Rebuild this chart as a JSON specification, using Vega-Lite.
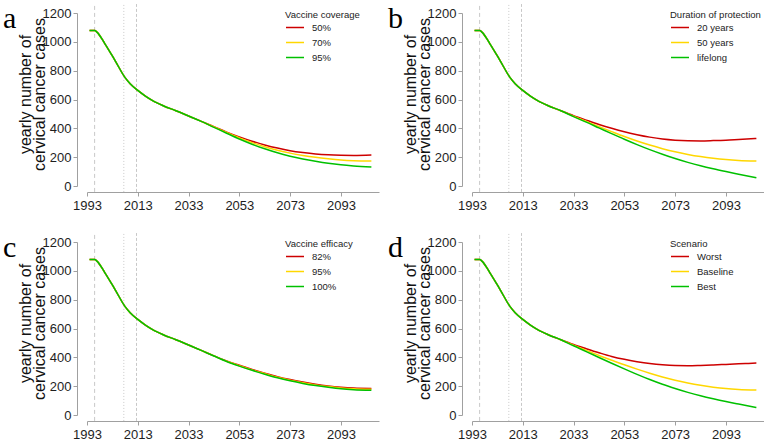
{
"$schema": "https://vega.github.io/schema/vega-lite/v6.json",
"background": "white",
"padding": {"left": 3, "top": 3, "right": 0, "bottom": 0},
"columns": 2,
"spacing": {"row": 56, "column": 93},
"bounds": "flush",
"resolve": {"scale": {"color": "independent", "x": "independent", "y": "independent", "strokeDash": "independent"}, "legend": {"color": "independent"}},
"datasets": {
"vlines": [{"year": 1996, "kind": "d1"}, {"year": 2007.5, "kind": "d2"}, {"year": 2012.5, "kind": "d3"}],
"curves": [
{"p":"a","s":"50%","year":1994,"cases":1078},{"p":"a","s":"50%","year":1996,"cases":1078},{"p":"a","s":"50%","year":1997,"cases":1066},{"p":"a","s":"50%","year":2000,"cases":988},{"p":"a","s":"50%","year":2004,"cases":872},{"p":"a","s":"50%","year":2008,"cases":752},{"p":"a","s":"50%","year":2010,"cases":710},{"p":"a","s":"50%","year":2013,"cases":663},{"p":"a","s":"50%","year":2016,"cases":624},{"p":"a","s":"50%","year":2019,"cases":591},{"p":"a","s":"50%","year":2023,"cases":557},{"p":"a","s":"50%","year":2028,"cases":522},
{"p":"a","s":"50%","year":2033,"cases":486},{"p":"a","s":"50%","year":2038,"cases":448},{"p":"a","s":"50%","year":2043,"cases":412},{"p":"a","s":"50%","year":2048,"cases":374},{"p":"a","s":"50%","year":2053,"cases":341},{"p":"a","s":"50%","year":2058,"cases":311},{"p":"a","s":"50%","year":2063,"cases":285},{"p":"a","s":"50%","year":2068,"cases":263},{"p":"a","s":"50%","year":2073,"cases":245},{"p":"a","s":"50%","year":2078,"cases":232},{"p":"a","s":"50%","year":2083,"cases":222},{"p":"a","s":"50%","year":2088,"cases":216},{"p":"a","s":"50%","year":2093,"cases":213},{"p":"a","s":"50%","year":2098,"cases":212},{"p":"a","s":"50%","year":2105,"cases":215},
{"p":"a","s":"70%","year":1994,"cases":1078},{"p":"a","s":"70%","year":1996,"cases":1078},{"p":"a","s":"70%","year":1997,"cases":1066},{"p":"a","s":"70%","year":2000,"cases":988},{"p":"a","s":"70%","year":2004,"cases":872},{"p":"a","s":"70%","year":2008,"cases":752},{"p":"a","s":"70%","year":2010,"cases":710},{"p":"a","s":"70%","year":2013,"cases":663},{"p":"a","s":"70%","year":2016,"cases":624},{"p":"a","s":"70%","year":2019,"cases":591},{"p":"a","s":"70%","year":2023,"cases":557},{"p":"a","s":"70%","year":2028,"cases":522},
{"p":"a","s":"70%","year":2033,"cases":486},{"p":"a","s":"70%","year":2038,"cases":448},{"p":"a","s":"70%","year":2043,"cases":410},{"p":"a","s":"70%","year":2048,"cases":371},{"p":"a","s":"70%","year":2053,"cases":334},{"p":"a","s":"70%","year":2058,"cases":301},{"p":"a","s":"70%","year":2063,"cases":272},{"p":"a","s":"70%","year":2068,"cases":248},{"p":"a","s":"70%","year":2073,"cases":228},{"p":"a","s":"70%","year":2078,"cases":212},{"p":"a","s":"70%","year":2083,"cases":199},{"p":"a","s":"70%","year":2088,"cases":189},{"p":"a","s":"70%","year":2093,"cases":181},{"p":"a","s":"70%","year":2098,"cases":176},{"p":"a","s":"70%","year":2105,"cases":173},
{"p":"a","s":"95%","year":1994,"cases":1078},{"p":"a","s":"95%","year":1996,"cases":1078},{"p":"a","s":"95%","year":1997,"cases":1066},{"p":"a","s":"95%","year":2000,"cases":988},{"p":"a","s":"95%","year":2004,"cases":872},{"p":"a","s":"95%","year":2008,"cases":752},{"p":"a","s":"95%","year":2010,"cases":710},{"p":"a","s":"95%","year":2013,"cases":663},{"p":"a","s":"95%","year":2016,"cases":624},{"p":"a","s":"95%","year":2019,"cases":591},{"p":"a","s":"95%","year":2023,"cases":557},{"p":"a","s":"95%","year":2028,"cases":522},
{"p":"a","s":"95%","year":2033,"cases":486},{"p":"a","s":"95%","year":2038,"cases":448},{"p":"a","s":"95%","year":2043,"cases":407},{"p":"a","s":"95%","year":2048,"cases":366},{"p":"a","s":"95%","year":2053,"cases":326},{"p":"a","s":"95%","year":2058,"cases":290},{"p":"a","s":"95%","year":2063,"cases":258},{"p":"a","s":"95%","year":2068,"cases":230},{"p":"a","s":"95%","year":2073,"cases":207},{"p":"a","s":"95%","year":2078,"cases":188},{"p":"a","s":"95%","year":2083,"cases":172},{"p":"a","s":"95%","year":2088,"cases":158},{"p":"a","s":"95%","year":2093,"cases":147},{"p":"a","s":"95%","year":2098,"cases":139},{"p":"a","s":"95%","year":2105,"cases":131},

{"p":"b","s":"20 years","year":1994,"cases":1078},{"p":"b","s":"20 years","year":1996,"cases":1078},{"p":"b","s":"20 years","year":1997,"cases":1066},{"p":"b","s":"20 years","year":2000,"cases":988},{"p":"b","s":"20 years","year":2004,"cases":872},{"p":"b","s":"20 years","year":2008,"cases":752},{"p":"b","s":"20 years","year":2010,"cases":710},{"p":"b","s":"20 years","year":2013,"cases":663},{"p":"b","s":"20 years","year":2016,"cases":624},{"p":"b","s":"20 years","year":2019,"cases":591},{"p":"b","s":"20 years","year":2023,"cases":557},{"p":"b","s":"20 years","year":2028,"cases":522},
{"p":"b","s":"20 years","year":2033,"cases":488},{"p":"b","s":"20 years","year":2038,"cases":457},{"p":"b","s":"20 years","year":2043,"cases":427},{"p":"b","s":"20 years","year":2048,"cases":400},{"p":"b","s":"20 years","year":2053,"cases":376},{"p":"b","s":"20 years","year":2058,"cases":356},{"p":"b","s":"20 years","year":2063,"cases":339},{"p":"b","s":"20 years","year":2068,"cases":326},{"p":"b","s":"20 years","year":2073,"cases":318},{"p":"b","s":"20 years","year":2078,"cases":314},{"p":"b","s":"20 years","year":2083,"cases":313},{"p":"b","s":"20 years","year":2088,"cases":315},{"p":"b","s":"20 years","year":2093,"cases":318},{"p":"b","s":"20 years","year":2098,"cases":323},{"p":"b","s":"20 years","year":2105,"cases":330},
{"p":"b","s":"50 years","year":1994,"cases":1078},{"p":"b","s":"50 years","year":1996,"cases":1078},{"p":"b","s":"50 years","year":1997,"cases":1066},{"p":"b","s":"50 years","year":2000,"cases":988},{"p":"b","s":"50 years","year":2004,"cases":872},{"p":"b","s":"50 years","year":2008,"cases":752},{"p":"b","s":"50 years","year":2010,"cases":710},{"p":"b","s":"50 years","year":2013,"cases":663},{"p":"b","s":"50 years","year":2016,"cases":624},{"p":"b","s":"50 years","year":2019,"cases":591},{"p":"b","s":"50 years","year":2023,"cases":557},{"p":"b","s":"50 years","year":2028,"cases":522},
{"p":"b","s":"50 years","year":2033,"cases":484},{"p":"b","s":"50 years","year":2038,"cases":448},{"p":"b","s":"50 years","year":2043,"cases":412},{"p":"b","s":"50 years","year":2048,"cases":377},{"p":"b","s":"50 years","year":2053,"cases":343},{"p":"b","s":"50 years","year":2058,"cases":312},{"p":"b","s":"50 years","year":2063,"cases":284},{"p":"b","s":"50 years","year":2068,"cases":259},{"p":"b","s":"50 years","year":2073,"cases":237},{"p":"b","s":"50 years","year":2078,"cases":219},{"p":"b","s":"50 years","year":2083,"cases":204},{"p":"b","s":"50 years","year":2088,"cases":192},{"p":"b","s":"50 years","year":2093,"cases":183},{"p":"b","s":"50 years","year":2098,"cases":177},{"p":"b","s":"50 years","year":2105,"cases":173},
{"p":"b","s":"lifelong","year":1994,"cases":1078},{"p":"b","s":"lifelong","year":1996,"cases":1078},{"p":"b","s":"lifelong","year":1997,"cases":1066},{"p":"b","s":"lifelong","year":2000,"cases":988},{"p":"b","s":"lifelong","year":2004,"cases":872},{"p":"b","s":"lifelong","year":2008,"cases":752},{"p":"b","s":"lifelong","year":2010,"cases":710},{"p":"b","s":"lifelong","year":2013,"cases":663},{"p":"b","s":"lifelong","year":2016,"cases":624},{"p":"b","s":"lifelong","year":2019,"cases":591},{"p":"b","s":"lifelong","year":2023,"cases":557},{"p":"b","s":"lifelong","year":2028,"cases":522},
{"p":"b","s":"lifelong","year":2033,"cases":481},{"p":"b","s":"lifelong","year":2038,"cases":443},{"p":"b","s":"lifelong","year":2043,"cases":403},{"p":"b","s":"lifelong","year":2048,"cases":363},{"p":"b","s":"lifelong","year":2053,"cases":324},{"p":"b","s":"lifelong","year":2058,"cases":287},{"p":"b","s":"lifelong","year":2063,"cases":252},{"p":"b","s":"lifelong","year":2068,"cases":220},{"p":"b","s":"lifelong","year":2073,"cases":191},{"p":"b","s":"lifelong","year":2078,"cases":164},{"p":"b","s":"lifelong","year":2083,"cases":140},{"p":"b","s":"lifelong","year":2088,"cases":119},{"p":"b","s":"lifelong","year":2093,"cases":100},{"p":"b","s":"lifelong","year":2098,"cases":82},{"p":"b","s":"lifelong","year":2105,"cases":57},

{"p":"c","s":"82%","year":1994,"cases":1078},{"p":"c","s":"82%","year":1996,"cases":1078},{"p":"c","s":"82%","year":1997,"cases":1066},{"p":"c","s":"82%","year":2000,"cases":988},{"p":"c","s":"82%","year":2004,"cases":872},{"p":"c","s":"82%","year":2008,"cases":752},{"p":"c","s":"82%","year":2010,"cases":710},{"p":"c","s":"82%","year":2013,"cases":663},{"p":"c","s":"82%","year":2016,"cases":624},{"p":"c","s":"82%","year":2019,"cases":591},{"p":"c","s":"82%","year":2023,"cases":557},{"p":"c","s":"82%","year":2028,"cases":522},
{"p":"c","s":"82%","year":2033,"cases":486},{"p":"c","s":"82%","year":2038,"cases":448},{"p":"c","s":"82%","year":2043,"cases":410},{"p":"c","s":"82%","year":2048,"cases":375},{"p":"c","s":"82%","year":2053,"cases":345},{"p":"c","s":"82%","year":2058,"cases":316},{"p":"c","s":"82%","year":2063,"cases":290},{"p":"c","s":"82%","year":2068,"cases":266},{"p":"c","s":"82%","year":2073,"cases":246},{"p":"c","s":"82%","year":2078,"cases":229},{"p":"c","s":"82%","year":2083,"cases":214},{"p":"c","s":"82%","year":2088,"cases":202},{"p":"c","s":"82%","year":2093,"cases":193},{"p":"c","s":"82%","year":2098,"cases":187},{"p":"c","s":"82%","year":2105,"cases":184},
{"p":"c","s":"95%","year":1994,"cases":1078},{"p":"c","s":"95%","year":1996,"cases":1078},{"p":"c","s":"95%","year":1997,"cases":1066},{"p":"c","s":"95%","year":2000,"cases":988},{"p":"c","s":"95%","year":2004,"cases":872},{"p":"c","s":"95%","year":2008,"cases":752},{"p":"c","s":"95%","year":2010,"cases":710},{"p":"c","s":"95%","year":2013,"cases":663},{"p":"c","s":"95%","year":2016,"cases":624},{"p":"c","s":"95%","year":2019,"cases":591},{"p":"c","s":"95%","year":2023,"cases":557},{"p":"c","s":"95%","year":2028,"cases":522},
{"p":"c","s":"95%","year":2033,"cases":486},{"p":"c","s":"95%","year":2038,"cases":448},{"p":"c","s":"95%","year":2043,"cases":410},{"p":"c","s":"95%","year":2048,"cases":373},{"p":"c","s":"95%","year":2053,"cases":342},{"p":"c","s":"95%","year":2058,"cases":313},{"p":"c","s":"95%","year":2063,"cases":287},{"p":"c","s":"95%","year":2068,"cases":262},{"p":"c","s":"95%","year":2073,"cases":241},{"p":"c","s":"95%","year":2078,"cases":224},{"p":"c","s":"95%","year":2083,"cases":209},{"p":"c","s":"95%","year":2088,"cases":197},{"p":"c","s":"95%","year":2093,"cases":188},{"p":"c","s":"95%","year":2098,"cases":182},{"p":"c","s":"95%","year":2105,"cases":178},
{"p":"c","s":"100%","year":1994,"cases":1078},{"p":"c","s":"100%","year":1996,"cases":1078},{"p":"c","s":"100%","year":1997,"cases":1066},{"p":"c","s":"100%","year":2000,"cases":988},{"p":"c","s":"100%","year":2004,"cases":872},{"p":"c","s":"100%","year":2008,"cases":752},{"p":"c","s":"100%","year":2010,"cases":710},{"p":"c","s":"100%","year":2013,"cases":663},{"p":"c","s":"100%","year":2016,"cases":624},{"p":"c","s":"100%","year":2019,"cases":591},{"p":"c","s":"100%","year":2023,"cases":557},{"p":"c","s":"100%","year":2028,"cases":522},
{"p":"c","s":"100%","year":2033,"cases":486},{"p":"c","s":"100%","year":2038,"cases":448},{"p":"c","s":"100%","year":2043,"cases":409},{"p":"c","s":"100%","year":2048,"cases":371},{"p":"c","s":"100%","year":2053,"cases":339},{"p":"c","s":"100%","year":2058,"cases":310},{"p":"c","s":"100%","year":2063,"cases":283},{"p":"c","s":"100%","year":2068,"cases":258},{"p":"c","s":"100%","year":2073,"cases":237},{"p":"c","s":"100%","year":2078,"cases":219},{"p":"c","s":"100%","year":2083,"cases":204},{"p":"c","s":"100%","year":2088,"cases":192},{"p":"c","s":"100%","year":2093,"cases":182},{"p":"c","s":"100%","year":2098,"cases":176},{"p":"c","s":"100%","year":2105,"cases":172},

{"p":"d","s":"Worst","year":1994,"cases":1078},{"p":"d","s":"Worst","year":1996,"cases":1078},{"p":"d","s":"Worst","year":1997,"cases":1066},{"p":"d","s":"Worst","year":2000,"cases":988},{"p":"d","s":"Worst","year":2004,"cases":872},{"p":"d","s":"Worst","year":2008,"cases":752},{"p":"d","s":"Worst","year":2010,"cases":710},{"p":"d","s":"Worst","year":2013,"cases":663},{"p":"d","s":"Worst","year":2016,"cases":624},{"p":"d","s":"Worst","year":2019,"cases":591},{"p":"d","s":"Worst","year":2023,"cases":557},{"p":"d","s":"Worst","year":2028,"cases":522},
{"p":"d","s":"Worst","year":2033,"cases":489},{"p":"d","s":"Worst","year":2038,"cases":460},{"p":"d","s":"Worst","year":2043,"cases":432},{"p":"d","s":"Worst","year":2048,"cases":406},{"p":"d","s":"Worst","year":2053,"cases":386},{"p":"d","s":"Worst","year":2058,"cases":370},{"p":"d","s":"Worst","year":2063,"cases":357},{"p":"d","s":"Worst","year":2068,"cases":348},{"p":"d","s":"Worst","year":2073,"cases":343},{"p":"d","s":"Worst","year":2078,"cases":342},{"p":"d","s":"Worst","year":2083,"cases":344},{"p":"d","s":"Worst","year":2088,"cases":347},{"p":"d","s":"Worst","year":2093,"cases":351},{"p":"d","s":"Worst","year":2098,"cases":355},{"p":"d","s":"Worst","year":2105,"cases":360},
{"p":"d","s":"Baseline","year":1994,"cases":1078},{"p":"d","s":"Baseline","year":1996,"cases":1078},{"p":"d","s":"Baseline","year":1997,"cases":1066},{"p":"d","s":"Baseline","year":2000,"cases":988},{"p":"d","s":"Baseline","year":2004,"cases":872},{"p":"d","s":"Baseline","year":2008,"cases":752},{"p":"d","s":"Baseline","year":2010,"cases":710},{"p":"d","s":"Baseline","year":2013,"cases":663},{"p":"d","s":"Baseline","year":2016,"cases":624},{"p":"d","s":"Baseline","year":2019,"cases":591},{"p":"d","s":"Baseline","year":2023,"cases":557},{"p":"d","s":"Baseline","year":2028,"cases":522},
{"p":"d","s":"Baseline","year":2033,"cases":484},{"p":"d","s":"Baseline","year":2038,"cases":448},{"p":"d","s":"Baseline","year":2043,"cases":413},{"p":"d","s":"Baseline","year":2048,"cases":380},{"p":"d","s":"Baseline","year":2053,"cases":348},{"p":"d","s":"Baseline","year":2058,"cases":318},{"p":"d","s":"Baseline","year":2063,"cases":290},{"p":"d","s":"Baseline","year":2068,"cases":264},{"p":"d","s":"Baseline","year":2073,"cases":241},{"p":"d","s":"Baseline","year":2078,"cases":222},{"p":"d","s":"Baseline","year":2083,"cases":206},{"p":"d","s":"Baseline","year":2088,"cases":193},{"p":"d","s":"Baseline","year":2093,"cases":183},{"p":"d","s":"Baseline","year":2098,"cases":177},{"p":"d","s":"Baseline","year":2105,"cases":173},
{"p":"d","s":"Best","year":1994,"cases":1078},{"p":"d","s":"Best","year":1996,"cases":1078},{"p":"d","s":"Best","year":1997,"cases":1066},{"p":"d","s":"Best","year":2000,"cases":988},{"p":"d","s":"Best","year":2004,"cases":872},{"p":"d","s":"Best","year":2008,"cases":752},{"p":"d","s":"Best","year":2010,"cases":710},{"p":"d","s":"Best","year":2013,"cases":663},{"p":"d","s":"Best","year":2016,"cases":624},{"p":"d","s":"Best","year":2019,"cases":591},{"p":"d","s":"Best","year":2023,"cases":557},{"p":"d","s":"Best","year":2028,"cases":522},
{"p":"d","s":"Best","year":2033,"cases":480},{"p":"d","s":"Best","year":2038,"cases":440},{"p":"d","s":"Best","year":2043,"cases":399},{"p":"d","s":"Best","year":2048,"cases":359},{"p":"d","s":"Best","year":2053,"cases":320},{"p":"d","s":"Best","year":2058,"cases":282},{"p":"d","s":"Best","year":2063,"cases":246},{"p":"d","s":"Best","year":2068,"cases":213},{"p":"d","s":"Best","year":2073,"cases":184},{"p":"d","s":"Best","year":2078,"cases":157},{"p":"d","s":"Best","year":2083,"cases":133},{"p":"d","s":"Best","year":2088,"cases":112},{"p":"d","s":"Best","year":2093,"cases":93},{"p":"d","s":"Best","year":2098,"cases":76},{"p":"d","s":"Best","year":2105,"cases":52}
]},
"concat": [
{"width": 292, "height": 173,
 "title": {"text": "a"},
 "encoding": {"x": {"field": "year", "type": "quantitative", "scale": {"domain": [1993, 2108], "nice": false, "zero": false}, "axis": {"values": [1993, 2013, 2033, 2053, 2073, 2093], "format": "d", "title": null}}},
 "layer": [
  {"data": {"name": "vlines"}, "mark": {"type": "rule", "color": "#c8c8c8", "strokeWidth": 1},
   "encoding": {"y": {"datum": -41, "scale": {"domain": [0, 1200], "nice": false}, "axis": {"values": [0, 200, 400, 600, 800, 1000, 1200], "format": "d", "title": ["yearly number of", "cervical cancer cases"]}}, "y2": {"datum": 1262},
    "strokeDash": {"field": "kind", "type": "nominal", "scale": {"domain": ["d1", "d2", "d3"], "range": [[4, 3], [1, 2], [3, 2]]}, "legend": null}}},
  {"data": {"name": "curves"}, "transform": [{"filter": "datum.p == 'a'"}], "mark": {"type": "line", "strokeWidth": 1.5, "interpolate": "monotone"},
   "encoding": {"y": {"field": "cases", "type": "quantitative", "scale": {"domain": [0, 1200], "nice": false}, "axis": {"values": [0, 200, 400, 600, 800, 1000, 1200], "format": "d", "title": ["yearly number of", "cervical cancer cases"]}},
    "color": {"field": "s", "type": "nominal", "sort": null, "scale": {"domain": ["50%", "70%", "95%"], "range": ["#CD0000", "#FFD700", "#00C000"]}, "legend": {"title": "Vaccine coverage", "orient": "none", "legendX": 198, "legendY": -3}}}}
 ]},
{"width": 292, "height": 173,
 "title": {"text": "b"},
 "encoding": {"x": {"field": "year", "type": "quantitative", "scale": {"domain": [1993, 2108], "nice": false, "zero": false}, "axis": {"values": [1993, 2013, 2033, 2053, 2073, 2093], "format": "d", "title": null}}},
 "layer": [
  {"data": {"name": "vlines"}, "mark": {"type": "rule", "color": "#c8c8c8", "strokeWidth": 1},
   "encoding": {"y": {"datum": -41, "scale": {"domain": [0, 1200], "nice": false}, "axis": {"values": [0, 200, 400, 600, 800, 1000, 1200], "format": "d", "title": ["yearly number of", "cervical cancer cases"]}}, "y2": {"datum": 1262},
    "strokeDash": {"field": "kind", "type": "nominal", "scale": {"domain": ["d1", "d2", "d3"], "range": [[4, 3], [1, 2], [3, 2]]}, "legend": null}}},
  {"data": {"name": "curves"}, "transform": [{"filter": "datum.p == 'b'"}], "mark": {"type": "line", "strokeWidth": 1.5, "interpolate": "monotone"},
   "encoding": {"y": {"field": "cases", "type": "quantitative", "scale": {"domain": [0, 1200], "nice": false}, "axis": {"values": [0, 200, 400, 600, 800, 1000, 1200], "format": "d", "title": ["yearly number of", "cervical cancer cases"]}},
    "color": {"field": "s", "type": "nominal", "sort": null, "scale": {"domain": ["20 years", "50 years", "lifelong"], "range": ["#CD0000", "#FFD700", "#00C000"]}, "legend": {"title": "Duration of protection", "orient": "none", "legendX": 198, "legendY": -3}}}}
 ]},
{"width": 292, "height": 173,
 "title": {"text": "c"},
 "encoding": {"x": {"field": "year", "type": "quantitative", "scale": {"domain": [1993, 2108], "nice": false, "zero": false}, "axis": {"values": [1993, 2013, 2033, 2053, 2073, 2093], "format": "d", "title": null}}},
 "layer": [
  {"data": {"name": "vlines"}, "mark": {"type": "rule", "color": "#c8c8c8", "strokeWidth": 1},
   "encoding": {"y": {"datum": -41, "scale": {"domain": [0, 1200], "nice": false}, "axis": {"values": [0, 200, 400, 600, 800, 1000, 1200], "format": "d", "title": ["yearly number of", "cervical cancer cases"]}}, "y2": {"datum": 1262},
    "strokeDash": {"field": "kind", "type": "nominal", "scale": {"domain": ["d1", "d2", "d3"], "range": [[4, 3], [1, 2], [3, 2]]}, "legend": null}}},
  {"data": {"name": "curves"}, "transform": [{"filter": "datum.p == 'c'"}], "mark": {"type": "line", "strokeWidth": 1.5, "interpolate": "monotone"},
   "encoding": {"y": {"field": "cases", "type": "quantitative", "scale": {"domain": [0, 1200], "nice": false}, "axis": {"values": [0, 200, 400, 600, 800, 1000, 1200], "format": "d", "title": ["yearly number of", "cervical cancer cases"]}},
    "color": {"field": "s", "type": "nominal", "sort": null, "scale": {"domain": ["82%", "95%", "100%"], "range": ["#CD0000", "#FFD700", "#00C000"]}, "legend": {"title": "Vaccine efficacy", "orient": "none", "legendX": 198, "legendY": -3}}}}
 ]},
{"width": 292, "height": 173,
 "title": {"text": "d"},
 "encoding": {"x": {"field": "year", "type": "quantitative", "scale": {"domain": [1993, 2108], "nice": false, "zero": false}, "axis": {"values": [1993, 2013, 2033, 2053, 2073, 2093], "format": "d", "title": null}}},
 "layer": [
  {"data": {"name": "vlines"}, "mark": {"type": "rule", "color": "#c8c8c8", "strokeWidth": 1},
   "encoding": {"y": {"datum": -41, "scale": {"domain": [0, 1200], "nice": false}, "axis": {"values": [0, 200, 400, 600, 800, 1000, 1200], "format": "d", "title": ["yearly number of", "cervical cancer cases"]}}, "y2": {"datum": 1262},
    "strokeDash": {"field": "kind", "type": "nominal", "scale": {"domain": ["d1", "d2", "d3"], "range": [[4, 3], [1, 2], [3, 2]]}, "legend": null}}},
  {"data": {"name": "curves"}, "transform": [{"filter": "datum.p == 'd'"}], "mark": {"type": "line", "strokeWidth": 1.5, "interpolate": "monotone"},
   "encoding": {"y": {"field": "cases", "type": "quantitative", "scale": {"domain": [0, 1200], "nice": false}, "axis": {"values": [0, 200, 400, 600, 800, 1000, 1200], "format": "d", "title": ["yearly number of", "cervical cancer cases"]}},
    "color": {"field": "s", "type": "nominal", "sort": null, "scale": {"domain": ["Worst", "Baseline", "Best"], "range": ["#CD0000", "#FFD700", "#00C000"]}, "legend": {"title": "Scenario", "orient": "none", "legendX": 198, "legendY": -3}}}}
 ]}
],
"config": {
 "view": {"stroke": null},
 "font": "Liberation Sans",
 "title": {"anchor": "start", "frame": "group", "orient": "top", "font": "Liberation Serif", "fontSize": 30, "fontWeight": "normal", "color": "#000000", "dx": -84, "dy": 34, "offset": 0, "baseline": "alphabetic"},
 "axis": {"grid": false, "labelFont": "Liberation Sans", "labelFontSize": 13, "labelColor": "#1e1e1e", "domainColor": "#a0a0a0", "tickColor": "#a0a0a0", "tickSize": 4, "titleFont": "Liberation Sans", "titleFontSize": 16, "titleFontWeight": "normal", "titleColor": "#111111", "labelFlush": false, "labelOverlap": false},
 "axisX": {"offset": 6, "labelPadding": 3},
 "axisY": {"offset": 10, "labelPadding": 2, "titlePadding": -5, "titleLineHeight": 14, "titleY": 81},
 "legend": {"titleFont": "Liberation Sans", "titleFontSize": 9.5, "titleFontWeight": "normal", "titleColor": "#222222", "labelFont": "Liberation Sans", "labelFontSize": 9.5, "labelColor": "#222222", "symbolType": "stroke", "symbolSize": 324, "symbolStrokeWidth": 1.5, "labelOffset": 7, "rowPadding": -6.5, "titlePadding": -2, "padding": 0}
}
}
